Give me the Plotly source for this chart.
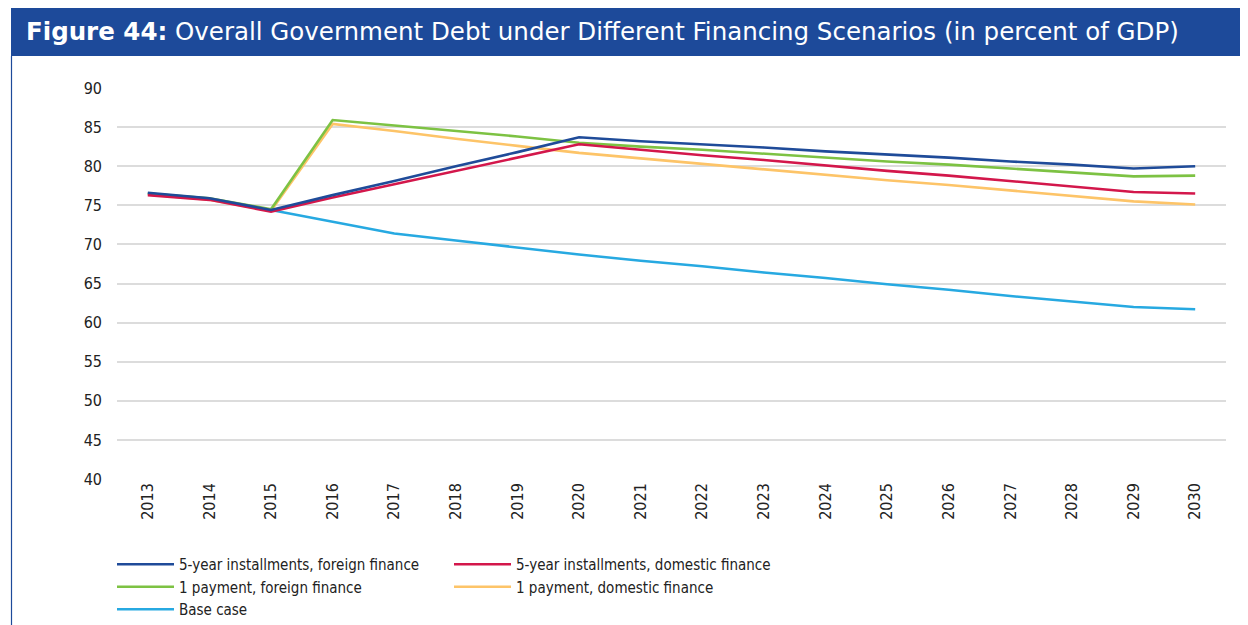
import plotly.graph_objects as go

years = [str(y) for y in range(2013, 2031)]

five_year_foreign = [76.6, 75.9, 74.4, 76.3, 78.1, 80.0, 81.8, 83.7, 83.2, 82.8, 82.4, 81.9, 81.5, 81.1, 80.6, 80.2, 79.7, 80.0]
five_year_domestic = [76.3, 75.7, 74.2, 76.0, 77.7, 79.4, 81.1, 82.8, 82.1, 81.4, 80.8, 80.1, 79.4, 78.8, 78.1, 77.4, 76.7, 76.5]
one_payment_foreign = [76.5, 75.9, 74.5, 85.9, 85.2, 84.5, 83.8, 83.0, 82.5, 82.1, 81.6, 81.1, 80.6, 80.2, 79.7, 79.2, 78.7, 78.8]
one_payment_domestic = [76.4, 75.7, 74.3, 85.4, 84.5, 83.5, 82.6, 81.7, 81.0, 80.3, 79.6, 78.9, 78.2, 77.6, 76.9, 76.2, 75.5, 75.1]
base_case = [76.5, 75.8, 74.4, 72.9, 71.4, 70.5, 69.6, 68.7, 67.9, 67.2, 66.4, 65.7, 64.9, 64.2, 63.4, 62.7, 62.0, 61.7]

y_ticks = [40, 45, 50, 55, 60, 65, 70, 75, 80, 85, 90]

title_bold = "Figure 44:"
title_rest = " Overall Government Debt under Different Financing Scenarios (in percent of GDP)"

series = [
    ("5-year installments, foreign finance", five_year_foreign, "#1F4B99", "legend"),
    ("5-year installments, domestic finance", five_year_domestic, "#D3174B", "legend2"),
    ("1 payment, foreign finance", one_payment_foreign, "#7DC243", "legend"),
    ("1 payment, domestic finance", one_payment_domestic, "#FDC468", "legend2"),
    ("Base case", base_case, "#27A9E1", "legend"),
]

fig = go.Figure()
order = [4, 3, 2, 1, 0]
for i in order:
    name, vals, color, leg = series[i]
    fig.add_trace(go.Scatter(
        x=years, y=vals, name=name, mode="lines",
        line=dict(color=color, width=2.6),
        legend=leg, legendrank=i,
    ))

# the page body adds an 8px offset; figure is sized to fill the rest
W, H = 1240, 617
ml, mr, mt, mb = 109, 22, 80, 146
pw = W - ml - mr
ph = H - mt - mb

def px_x(p):
    return (p - ml) / pw

def px_y(p):
    return (H - mb - p) / ph

cond = "Liberation Sans Narrow, DejaVu Sans Condensed, Arial Narrow, sans-serif"
legend_font = dict(family=cond, size=15, color="#222222")

fig.update_layout(
    width=W, height=H,
    margin=dict(l=ml, r=mr, t=mt, b=mb, autoexpand=False),
    paper_bgcolor="white", plot_bgcolor="white",
    showlegend=True,
    legend=dict(
        xref="container", yref="container",
        x=104 / W, y=1 - 540 / H, xanchor="left", yanchor="top",
        orientation="v", font=legend_font, itemwidth=57,
        tracegroupgap=0, bgcolor="rgba(0,0,0,0)",
    ),
    legend2=dict(
        xref="container", yref="container",
        x=441 / W, y=1 - 540 / H, xanchor="left", yanchor="top",
        orientation="v", font=legend_font, itemwidth=57,
        tracegroupgap=0, bgcolor="rgba(0,0,0,0)",
    ),
    xaxis=dict(
        type="category", categoryorder="array", categoryarray=years,
        range=[-0.5, len(years) - 0.5],
        tickangle=-90, showgrid=False, zeroline=False, showline=False,
        ticks="", tickfont=dict(family=cond, size=16, color="#222222"),
    ),
    yaxis=dict(
        range=[40, 90], tickvals=y_ticks, ticktext=[str(v) for v in y_ticks],
        showgrid=True, gridcolor="#DCDCDC", gridwidth=1.5,
        zeroline=False, showline=False, ticks="",
        tickfont=dict(family=cond, size=16, color="#222222"),
        ticklabelstandoff=14,
    ),
    shapes=[
        dict(type="rect", xref="paper", yref="paper",
             x0=px_x(3), x1=px_x(1241), y0=px_y(48), y1=px_y(0),
             fillcolor="#1D4A9A", line=dict(width=0), layer="above"),
        dict(type="line", xref="paper", yref="paper",
             x0=px_x(3.5), x1=px_x(3.5), y0=px_y(618), y1=px_y(48),
             line=dict(color="#1D4A9A", width=1.2)),
    ],
    annotations=[
        dict(xref="paper", yref="paper", x=px_x(16), y=px_y(24),
             xanchor="left", yanchor="middle", showarrow=False,
             text="<b>" + title_bold + "</b>" + title_rest,
             font=dict(family="DejaVu Sans, sans-serif", size=24.5, color="white")),
    ],
)

fig.write_html("out.html")
